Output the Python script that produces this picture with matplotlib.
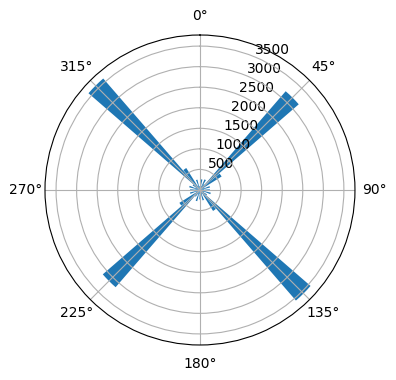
import matplotlib
matplotlib.use("Agg")
import matplotlib.pyplot as plt
import numpy as np

# histogram of directions, 40 bins of 9 degrees (compass angle, clockwise from north)
bin_deg = np.arange(0, 360, 9)
counts = [90, 260, 110, 280, 170, 3180, 620, 120, 250, 100,
          240, 80, 270, 110, 200, 3560, 600, 110, 260, 90,
          230, 100, 280, 120, 190, 3130, 590, 100, 250, 80,
          240, 110, 270, 120, 210, 3590, 630, 120, 260, 100]

fig = plt.figure(figsize=(3.96, 3.8), dpi=100)
ax = fig.add_axes([0.1136, 0.0921, 0.7828, 0.8158], projection='polar')
ax.set_theta_zero_location('N')
ax.set_theta_direction(-1)

theta = np.deg2rad(bin_deg)
ax.bar(theta, counts, width=0.9 * 2 * np.pi / len(bin_deg))

fig.savefig('out.png', dpi=100)
